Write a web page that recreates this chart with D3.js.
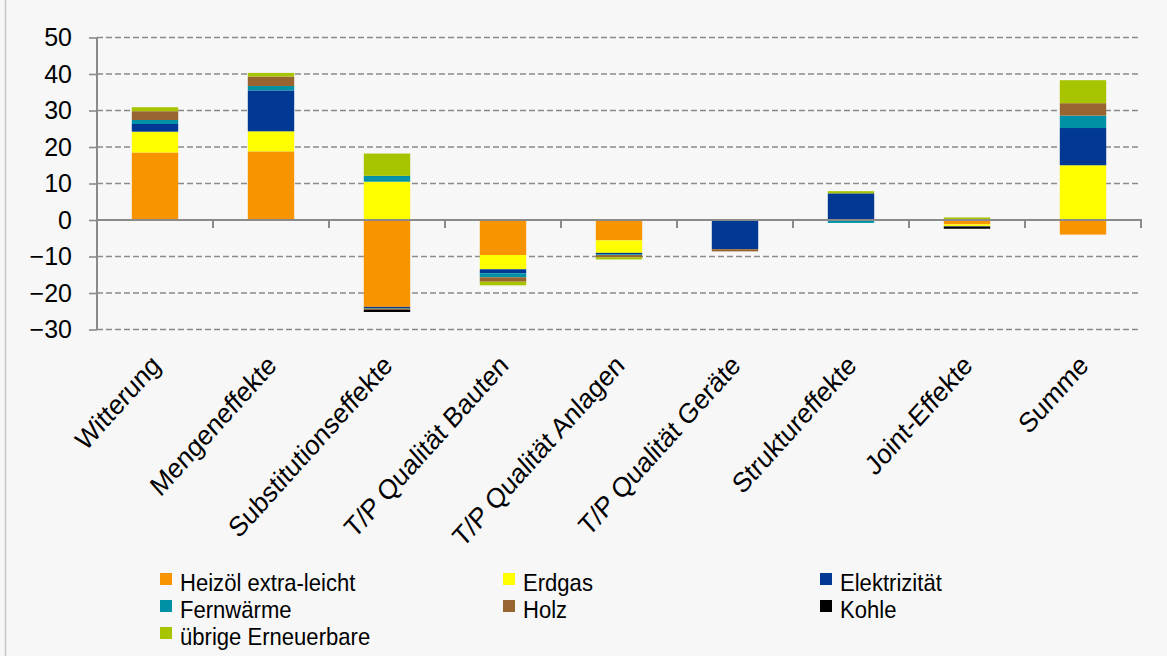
<!DOCTYPE html>
<html>
<head>
<meta charset="utf-8">
<script src="https://cdn.jsdelivr.net/npm/d3@7"></script>
<style>
  html, body { margin: 0; padding: 0; background: #f7f7f7; }
  svg { display: block; font-family: "Liberation Sans", Arial, sans-serif; }
</style>
</head>
<body>
<svg id="chart" width="1167" height="656"></svg>
<script>
// Effect categories (x axis)
const categories = ["Witterung", "Mengeneffekte", "Substitutionseffekte", "T/P Qualität Bauten",
  "T/P Qualität Anlagen", "T/P Qualität Geräte", "Struktureffekte", "Joint-Effekte", "Summe"];

// Energy carriers (stack order)
const seriesNames = ["Heizöl extra-leicht", "Erdgas", "Elektrizität", "Fernwärme", "Holz", "Kohle", "übrige Erneuerbare"];
const seriesColors = ["#f79400", "#ffff00", "#003893", "#0091a6", "#98642f", "#000000", "#a8c400"];

// Values per carrier, one entry per category
const heizoel       = [18.5, 18.8, -23.8, -9.6, -5.6,  0.0,  0.0, -1.2, -4.0];
const erdgas        = [ 5.7,  5.5,  10.5, -3.9, -3.4,  0.0,  0.0, -0.5, 15.0];
const elektrizitaet = [ 2.1, 11.2,  -0.3, -1.1, -0.4, -8.0,  7.3, -0.1, 10.2];
const fernwaerme    = [ 1.1,  1.2,   1.6, -1.1, -0.2,  0.0, -0.8,  0.0,  3.4];
const holz          = [ 2.4,  2.6,  -0.5, -1.2, -0.6, -0.6,  0.0,  0.0,  3.4];
const kohle         = [ 0.0,  0.0,  -0.6,  0.0,  0.0,  0.0,  0.0, -0.6,  0.0];
const uebrige       = [ 1.1,  1.0,   6.1, -1.0, -0.6,  0.0,  0.6,  0.7,  6.3];
// Small negative Fernwärme piece of the Substitution bar (the positive one is above)
const fernwaermeNeg = [0, 0, -0.2, 0, 0, 0, 0, 0, 0];

const yTicks = [50, 40, 30, 20, 10, 0, -10, -20, -30];

const svg = d3.select("#chart");
const W = 1167, H = 656;
const FONT = "'Liberation Sans', Arial, sans-serif";

svg.append("rect").attr("width", W).attr("height", H).attr("fill", "#f7f7f7");
// outer frame edge on the left
svg.append("line").attr("x1", 5.5).attr("x2", 5.5).attr("y1", 0).attr("y2", H)
  .attr("stroke", "#c8c8c8").attr("stroke-width", 1.5);

const x = d3.scaleBand().domain(categories).range([97, 1141]).paddingInner(0.6).paddingOuter(0.3);
const y = d3.scaleLinear().domain([-30, 50]).range([329.5, 37.5]);

// Build rows for stacking
const valueArrays = [heizoel, erdgas, elektrizitaet, fernwaerme, holz, kohle, uebrige];
const rows = categories.map((c, i) => {
  const r = { cat: c };
  seriesNames.forEach((s, k) => { r[s] = valueArrays[k][i]; });
  return r;
});

// Gridlines
svg.append("g").selectAll("line").data(yTicks.filter(t => t !== 0)).join("line")
  .attr("x1", 97).attr("x2", 1141)
  .attr("y1", d => y(d)).attr("y2", d => y(d))
  .attr("stroke", "#8a8a8a").attr("stroke-width", 1.6)
  .attr("stroke-dasharray", "6,3");

// Stacked bars (positive and negative stacks diverge from zero)
const stack = d3.stack().keys(seriesNames).offset(d3.stackOffsetDiverging);
const stacked = stack(rows);

const gBars = svg.append("g");
stacked.forEach((layer, k) => {
  gBars.append("g").attr("fill", seriesColors[k])
    .selectAll("rect").data(layer).join("rect")
    .attr("x", d => x(d.data.cat))
    .attr("width", x.bandwidth())
    .attr("y", d => y(Math.max(d[0], d[1])))
    .attr("height", d => Math.abs(y(d[0]) - y(d[1])));
});

// Thin Fernwärme band under Elektrizität in the negative part of the Substitution bar
rows.forEach((r, i) => {
  const v = fernwaermeNeg[i];
  if (!v) return;
  const top = heizoel[i] + (erdgas[i] < 0 ? erdgas[i] : 0) + (elektrizitaet[i] < 0 ? elektrizitaet[i] : 0);
  gBars.append("rect")
    .attr("x", x(r.cat)).attr("width", x.bandwidth())
    .attr("y", y(top)).attr("height", y(top + v) - y(top))
    .attr("fill", "#6fa0b0");
});

// Y axis
const yAxis = svg.append("g").attr("transform", "translate(97,0)")
  .call(d3.axisLeft(y).tickValues(yTicks).tickSize(8).tickPadding(17).tickFormat(d3.format("d")));
yAxis.select(".domain").attr("stroke", "#8a8a8a").attr("stroke-width", 2).attr("d", `M0,${y(50)}V${y(-30)}`);
yAxis.selectAll(".tick line").attr("stroke", "#8a8a8a").attr("stroke-width", 1.6);
yAxis.selectAll(".tick text").attr("fill", "#000").attr("font-size", 25).attr("font-family", FONT);

// Zero line with category boundary ticks
const zeroY = y(0);
svg.append("line").attr("x1", 97).attr("x2", 1142).attr("y1", zeroY).attr("y2", zeroY)
  .attr("stroke", "#8a8a8a").attr("stroke-width", 2);
const bounds = d3.range(categories.length + 1).map(i => 97 + i * x.step());
svg.append("g").selectAll("line").data(bounds.slice(1)).join("line")
  .attr("x1", d => d).attr("x2", d => d)
  .attr("y1", zeroY).attr("y2", zeroY + 8)
  .attr("stroke", "#8a8a8a").attr("stroke-width", 2);

// Category labels (rotated, below the plot, slightly condensed)
svg.append("g").selectAll("text").data(categories).join("text")
  .attr("transform", d => `translate(${x(d) + x.bandwidth() / 2 + 7},367) scale(0.9,1) rotate(-45)`)
  .attr("text-anchor", "end")
  .attr("font-size", 28)
  .attr("fill", "#000")
  .text(d => d);

// Legend
const legendCols = [160, 503, 820];
const legendRows = [591, 618, 645];
const lg = svg.append("g");
seriesNames.forEach((s, k) => {
  const cx = legendCols[k % 3], cy = legendRows[Math.floor(k / 3)];
  lg.append("rect").attr("x", cx).attr("y", cy - 18).attr("width", 12).attr("height", 12)
    .attr("fill", seriesColors[k]);
  lg.append("text").attr("transform", `translate(${cx + 20},${cy}) scale(0.92,1)`)
    .attr("font-size", 24).attr("fill", "#000").text(s);
});
</script>
</body>
</html>
